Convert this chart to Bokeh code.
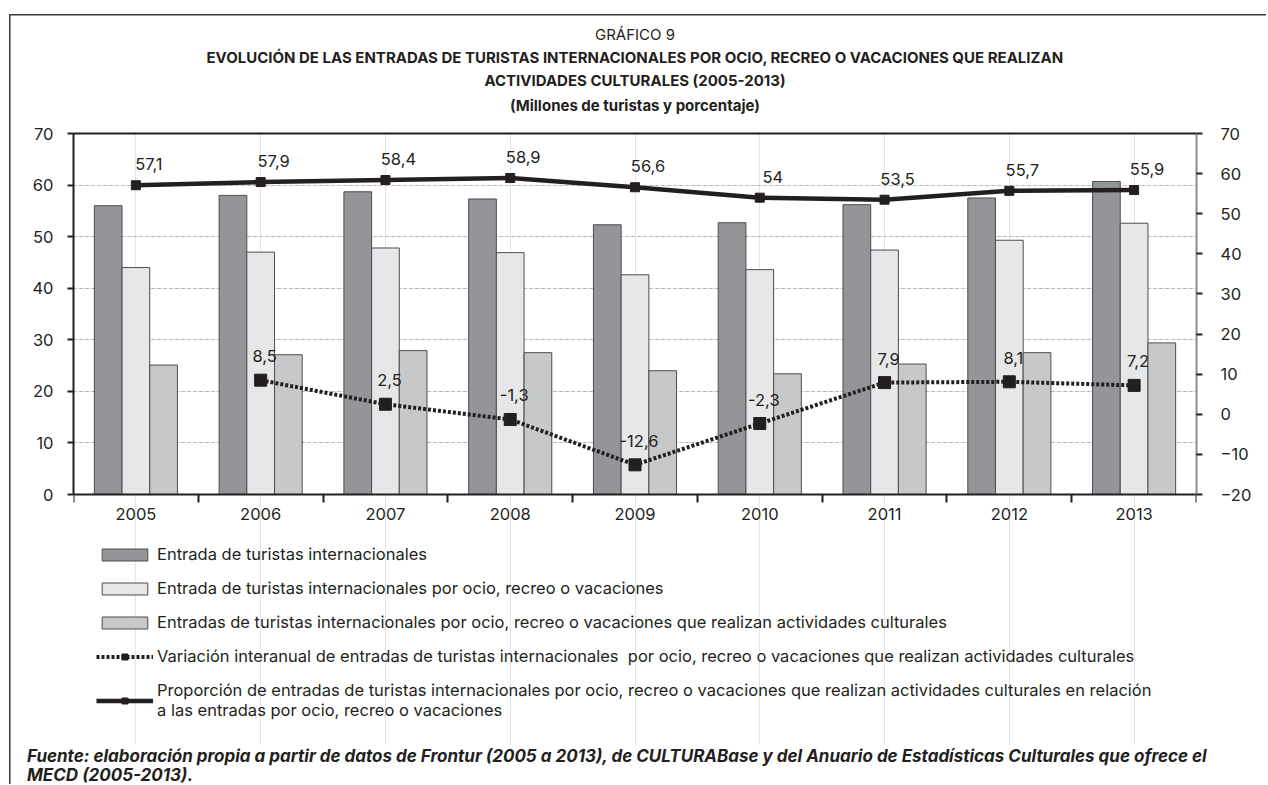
from bokeh.plotting import figure
from bokeh.layouts import column
from bokeh.models import (Range1d, LinearAxis, FixedTicker, Grid, Title, Div,
                          ColumnDataSource, Legend, LegendItem)
from bokeh.transform import dodge
from bokeh.core.properties import value
from bokeh.embed import file_html
from bokeh.resources import INLINE

nan = float("nan")

# ---------------- data ----------------
years = ["2005", "2006", "2007", "2008", "2009", "2010", "2011", "2012", "2013"]
entradas_total = [56.0, 58.0, 58.7, 57.3, 52.3, 52.7, 56.2, 57.5, 60.7]
entradas_ocio = [44.0, 47.0, 47.8, 46.9, 42.6, 43.6, 47.4, 49.3, 52.6]
entradas_cultura = [25.1, 27.1, 27.9, 27.5, 24.0, 23.4, 25.3, 27.5, 29.4]
variacion = [nan, 8.5, 2.5, -1.3, -12.6, -2.3, 7.9, 8.1, 7.2]
proporcion = [57.1, 57.9, 58.4, 58.9, 56.6, 54.0, 53.5, 55.7, 55.9]
left_ticks = [0, 10, 20, 30, 40, 50, 60, 70]
right_ticks = [-20, -10, 0, 10, 20, 30, 40, 50, 60, 70]

series_names = [
    "Entrada de turistas internacionales",
    "Entrada de turistas internacionales por ocio, recreo o vacaciones",
    "Entradas de turistas internacionales por ocio, recreo o vacaciones que realizan actividades culturales",
    "Variación interanual de entradas de turistas internacionales  por ocio, recreo o vacaciones que realizan actividades culturales",
    "Proporción de entradas de turistas internacionales por ocio, recreo o vacaciones que realizan actividades culturales en relación\na las entradas por ocio, recreo o vacaciones",
]
title_lines = [
    "GRÁFICO 9",
    "EVOLUCIÓN DE LAS ENTRADAS DE TURISTAS INTERNACIONALES POR OCIO, RECREO O VACACIONES QUE REALIZAN",
    "ACTIVIDADES CULTURALES (2005-2013)",
    "(Millones de turistas y porcentaje)",
]
fuente_lines = [
    "Fuente: elaboración propia a partir de datos de Frontur (2005 a 2013), de CULTURABase y del Anuario de Estadísticas Culturales que ofrece el",
    "MECD (2005-2013).",
]


def fmt(v):
    if v != v:
        return ""
    return f"{v:g}".replace(".", ",")


src = ColumnDataSource(dict(
    year=years, total=entradas_total, ocio=entradas_ocio, cultura=entradas_cultura,
    var=variacion, prop=proporcion,
    var_lbl=[fmt(v) for v in variacion], prop_lbl=[fmt(v) for v in proporcion],
))

FONT = "Inter"
TXT = "#231f20"
DARK = "#939598"
LIGHT = "#e6e7e8"
MID = "#c6c8ca"
EDGE = "#4d4d4f"
FS = "16.5px"

# layout (pixels): the frame reaches down to hold the legend; the value axes end at AXIS_Y
FIG_W, FIG_H = 1266, 745
FRAME_TOP, AXIS_Y = 133, 494
extra = (FIG_H - AXIS_Y) / (AXIS_Y - FRAME_TOP)
left_lo, left_hi = left_ticks[0], left_ticks[-1]
right_lo, right_hi = right_ticks[0], right_ticks[-1]

p = figure(width=FIG_W, height=FIG_H, x_range=years,
           y_range=Range1d(left_lo - extra * (left_hi - left_lo), left_hi),
           x_axis_location=None, y_axis_location=None,
           output_backend="svg", toolbar_location=None,
           min_border_left=73, min_border_right=70, min_border_top=FRAME_TOP, min_border_bottom=0)
p.x_range.range_padding = 0
p.extra_y_ranges = {"right": Range1d(right_lo - extra * (right_hi - right_lo), right_hi)}
p.outline_line_color = None
p.background_fill_color = "white"
p.border_fill_alpha = 0

# y axes
left = LinearAxis(ticker=FixedTicker(ticks=left_ticks), bounds=(left_lo, left_hi))
right = LinearAxis(y_range_name="right", ticker=FixedTicker(ticks=right_ticks),
                   bounds=(right_lo, right_hi))
for ax, lc, so in ((left, TXT, 14), (right, "#8c8c8c", 18)):
    ax.axis_line_color = lc
    ax.axis_line_width = 2
    ax.major_tick_line_color = TXT
    ax.major_tick_line_width = 2
    ax.major_tick_out = 6
    ax.major_tick_in = 0
    ax.minor_tick_line_color = None
    ax.major_label_text_font = FONT
    ax.major_label_text_font_size = FS
    ax.major_label_text_color = TXT
    ax.major_label_standoff = so
p.add_layout(left, "left")
p.add_layout(right, "right")

# x axis at value 0: year labels at category centres, tick marks at category boundaries
centres = [i + 0.5 for i in range(len(years))]
bounds = list(range(len(years) + 1))
x_axis = LinearAxis(ticker=FixedTicker(ticks=centres, minor_ticks=bounds),
                    major_label_overrides={c: y for c, y in zip(centres, years)},
                    fixed_location=0)
x_axis.axis_line_color = TXT
x_axis.axis_line_width = 2
x_axis.major_tick_line_color = None
x_axis.major_tick_out = 8
x_axis.major_tick_in = 0
x_axis.minor_tick_line_color = TXT
x_axis.minor_tick_line_width = 2
x_axis.minor_tick_out = 8
x_axis.minor_tick_in = 0
x_axis.major_label_text_font = FONT
x_axis.major_label_text_font_size = FS
x_axis.major_label_text_color = TXT
x_axis.major_label_standoff = 5
p.add_layout(x_axis, "below")

# top frame line, carrying the units sub-title as its label
top_axis = LinearAxis(ticker=FixedTicker(ticks=[]), axis_label=title_lines[3])
top_axis.axis_line_color = TXT
top_axis.axis_line_width = 2
top_axis.major_tick_out = 0
top_axis.major_tick_in = 0
top_axis.minor_tick_line_color = None
top_axis.axis_label_standoff = 19
top_axis.axis_label_text_font = FONT
top_axis.axis_label_text_font_size = "15px"
top_axis.axis_label_text_font_style = "bold"
top_axis.axis_label_text_color = TXT
p.add_layout(top_axis, "above")

grid = Grid(dimension=1, ticker=FixedTicker(ticks=left_ticks[1:-1]))
grid.grid_line_color = "#b5b5b5"
grid.grid_line_dash = "3 3"
grid.grid_line_width = 1
p.add_layout(grid)

# bars
bw = 0.222
r1 = p.vbar(x=dodge("year", -bw, range=p.x_range), top="total", width=bw, source=src,
            fill_color=DARK, line_color=EDGE, line_width=1)
r2 = p.vbar(x=dodge("year", 0, range=p.x_range), top="ocio", width=bw, source=src,
            fill_color=LIGHT, line_color=EDGE, line_width=1)
r3 = p.vbar(x=dodge("year", bw, range=p.x_range), top="cultura", width=bw, source=src,
            fill_color=MID, line_color=EDGE, line_width=1)

# lines
l4 = p.line(x="year", y="var", source=src, y_range_name="right",
            line_color=TXT, line_width=4, line_dash="3 2")
m4 = p.scatter(x="year", y="var", source=src, y_range_name="right", marker="square",
               size=12, fill_color=TXT, line_color=TXT)
l5 = p.line(x="year", y="prop", source=src, y_range_name="right",
            line_color=TXT, line_width=4.5)
m5 = p.scatter(x="year", y="prop", source=src, y_range_name="right", marker="square",
               size=9, fill_color=TXT, line_color=TXT)

p.text(x="year", y="var", text="var_lbl", source=src, y_range_name="right",
       x_offset=4, y_offset=-24, text_align="center", text_baseline="middle",
       text_font=value(FONT), text_font_size=FS, text_color=TXT)
p.text(x="year", y="prop", text="prop_lbl", source=src, y_range_name="right",
       x_offset=13, y_offset=-21, text_align="center", text_baseline="middle",
       text_font=value(FONT), text_font_size=FS, text_color=TXT)

# legend, inside the lower part of the frame
legend = Legend(items=[
    LegendItem(label=series_names[0], renderers=[r1]),
    LegendItem(label=series_names[1], renderers=[r2]),
    LegendItem(label=series_names[2], renderers=[r3]),
    LegendItem(label=series_names[3], renderers=[l4, m4]),
    LegendItem(label=series_names[4], renderers=[l5, m5]),
], location=(23, 25), orientation="vertical")
legend.padding = 7
legend.margin = 0
legend.spacing = 14
legend.glyph_width = 57
legend.glyph_height = 15
legend.label_standoff = 4
legend.border_line_color = None
legend.background_fill_alpha = 0
legend.label_text_font = FONT
legend.label_text_font_size = FS
legend.label_text_color = TXT
legend.label_text_line_height = 1.3
p.add_layout(legend, "center")

# titles stacked above the top line (nearest first)
for i, so in ((2, 5), (1, 0), (0, 3)):
    p.add_layout(Title(text=title_lines[i], align="center", standoff=so,
                       text_font=FONT, text_font_size="15px", text_color=TXT,
                       text_font_style="normal" if i == 0 else "bold"), "above")

# source note
fuente = Div(text="<br>".join(fuente_lines), width=1239, height=37, margin=(2, 0, 0, 27),
             styles={"font-family": "Inter", "font-size": "17px", "font-weight": "bold",
                     "font-style": "italic", "line-height": "18.5px", "color": TXT})

layout = column(p, fuente, spacing=0, width=FIG_W, height=784,
                styles={
                    "background-image": "linear-gradient(#3a3a3a, #3a3a3a), linear-gradient(#3a3a3a, #3a3a3a)",
                    "background-position": "9px 14px, 9px 14px",
                    "background-size": "1.5px 100%, 100% 1.5px",
                    "background-repeat": "no-repeat",
                })

open("out.html", "w").write(file_html(layout, INLINE))
